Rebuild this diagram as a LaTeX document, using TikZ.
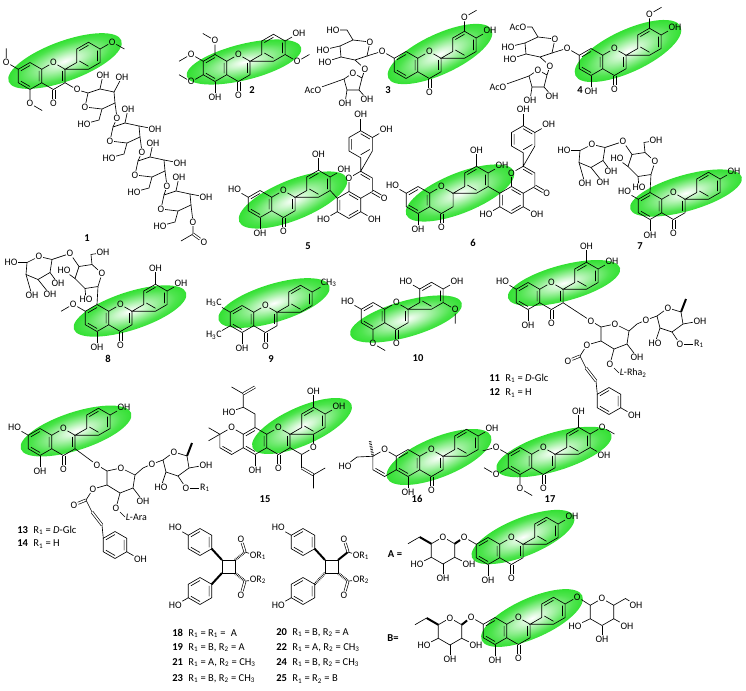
\documentclass[tikz,border=0pt]{standalone}
\usepackage{fontspec}
\setmainfont{Carlito}
\usetikzlibrary{calc}

\definecolor{glowgreen}{RGB}{8,218,8}
\pgfdeclareradialshading{greenglow}{\pgfpoint{0bp}{0bp}}{%
  color(0bp)=(white); color(6bp)=(white!80!glowgreen);
  color(20bp)=(glowgreen!72!white); color(33bp)=(glowgreen); color(50bp)=(glowgreen)}

% flavone skeleton, ring A centred on the pic origin
\newcommand{\flavcore}{%
  \coordinate (-a30) at (30:13.5);
  \coordinate (-a90) at (90:13.5);
  \coordinate (-a150) at (150:13.5);
  \coordinate (-a210) at (210:13.5);
  \coordinate (-a270) at (270:13.5);
  \coordinate (-a330) at (330:13.5);
  \coordinate (-c2) at (35.07,6.75);
  \coordinate (-c3) at (35.07,-6.75);
  \coordinate (-c4) at (23.38,-13.5);
  \node[atom] (-o1) at (23.38,13.5) {O};
  \node[atom] (-o4) at (23.38,-27) {O};
  \coordinate (-b210) at (46.76,13.5);
  \coordinate (-b150) at (46.76,27);
  \coordinate (-b90) at (58.45,33.75);
  \coordinate (-b30) at (70.14,27);
  \coordinate (-b330) at (70.14,13.5);
  \coordinate (-b270) at (58.45,6.75);
  \draw (-a30) -- (-a90) -- (-a150) -- (-a210) -- (-a270) -- (-a330) -- cycle;
  \draw (-a30) -- (-o1) -- (-c2) -- (-c3) -- (-c4) -- (-a330);
  \draw (-c2) -- (-b210) -- (-b150) -- (-b90) -- (-b30) -- (-b330) -- (-b270) -- cycle;
  \draw (90:10.5) -- (150:10.5) (210:10.5) -- (270:10.5) (330:10.5) -- (30:10.5);
  \begin{scope}[shift={(58.45,20.25)}]
    \draw (150:10.5) -- (90:10.5) (30:10.5) -- (330:10.5) (270:10.5) -- (210:10.5);
  \end{scope}
  \draw (21.9,-13.5) -- (21.9,-23) (24.86,-13.5) -- (24.86,-23);
}

% green glow behind a flavone core: x, y (screen), radii, angle
\newcommand{\glow}[5]{%
  \begin{scope}[transform canvas={shift={(#1,-#2)},rotate=#5}]
    \shade[shading=greenglow] (0,0) ellipse [x radius=#3, y radius=#4];
  \end{scope}}

\newcommand{\subst}[4][16]{%
  \path (#2) ++(#3:#1) node[atom] (#2-s) {#4};
  \draw (#2) -- (#2-s);}
\newcommand{\ome}[3]{%
  \path (#1) ++(#2:14) node[atom] (#1-s) {O};
  \draw (#1) -- (#1-s) -- ++(#3:14);}
\newcommand{\oxy}[3]{%
  \path (#1) ++(#2:14) node[atom] (#3) {O};
  \draw (#1) -- (#3);}
\newcommand{\hang}[4]{%
  \node[atom] (#1) at (#3) {#4};
  \draw (#2) -- (#1);}

\tikzset{
  atom/.style={inner sep=0.4pt, font=\fontsize{8.5}{9}\selectfont},
  cmpd/.style={inner sep=0.5pt, font=\fontsize{9}{10}\selectfont\bfseries},
  rlab/.style={anchor=west, inner sep=0pt, font=\fontsize{9}{10}\selectfont},
  wedgebond/.style={line width=1.7pt},
  hashbond/.style={line width=2.2pt, dash pattern=on 0.5pt off 0.9pt},
  dbl/.style={double, double distance=1.3pt},
  pics/flavone/.style={code={\flavcore \draw (32.47,5.25) -- (32.47,-5.25);}},
  pics/flavanone/.style={code={\flavcore}},
  pics/pyr/.style={code={
    \node[atom] (-o) at (-15,-8) {O};
    \coordinate (-c1) at (-12,6);
    \coordinate (-c2) at (0,10);
    \coordinate (-c3) at (14,7);
    \coordinate (-c4) at (15,-4);
    \coordinate (-c5) at (2,-10);
    \draw (-o) -- (-c1) -- (-c2) -- (-c3) -- (-c4) -- (-c5) -- (-o);
  }},
  pics/phen/.style={code={
    \foreach \t in {30,90,...,330} \coordinate (-v\t) at (\t:13.5);
    \draw (-v30) -- (-v90) -- (-v150) -- (-v210) -- (-v270) -- (-v330) -- cycle;
    \draw (90:10.5) -- (150:10.5) (210:10.5) -- (270:10.5) (330:10.5) -- (30:10.5);
  }}
}

% sugar of the chain in 1
\newcommand{\chainsug}[6]{%
  \pic (#1) at (#2,-#3) {pyr};
  \hang{#1h1}{#1-c2}{{#2+3},{-#3+24}}{OH}
  \hang{#1h2}{#1-#6}{{#2+#4},{-#3-(#5)}}{OH}
  \node[atom] (#1h3) at ({#2-16},{-#3-25}) {HO};
  \draw (#1-c5) -- ({#2-1},{-#3-21}) -- (#1h3);}

% glucose + acetylated furanose of 3 and 4
\newcommand{\glcapi}[4]{%
  \begin{scope}[shift={(#2,-#3)}]
    \pic[rotate=180] (#1g) at (0,0) {pyr};
    \node[atom] (#1t) at (-22,20) {#4};
    \draw (#1g-c5) -- (-8,20) -- (#1t);
    \hang{#1h1}{#1g-c4}{-32,0}{HO}
    \hang{#1h2}{#1g-c3}{-30,-12}{HO}
    \hang{#1l}{#1g-c2}{10,-19}{O}
    \coordinate (#1p1) at (7,-28);
    \node[atom] (#1po) at (-2,-23) {O};
    \coordinate (#1p3) at (-11,-29);
    \coordinate (#1p4) at (-8,-40);
    \coordinate (#1p5) at (4,-40);
    \draw (#1l) -- (#1p1) -- (#1po) -- (#1p3) -- (#1p4) -- (#1p5) -- (#1p1);
    \node[atom] (#1ac) at (-42,-40) {AcO};
    \draw (#1p3) -- (-25,-34) -- (#1ac);
    \hang{#1h3}{#1p5}{12,-49}{OH}
    \hang{#1h4}{#1p4}{-10,-53}{OH}
  \end{scope}}

% C-glycosyl disaccharide on C8 of 7 and 8
\newcommand{\cglyc}[2]{%
  \begin{scope}[shift={(#2)}]
    \node[atom] (#1go) at (5,31) {O};
    \coordinate (#1g1) at (1,18);
    \coordinate (#1g2) at (-12,16);
    \coordinate (#1g3) at (-22,26);
    \coordinate (#1g4) at (-18,38);
    \coordinate (#1g5) at (-5,40);
    \draw (#2) -- (#1g1) -- (#1g2) -- (#1g3) -- (#1g4) -- (#1g5) -- (#1go) -- (#1g1);
    \hang{#1h1}{#1g2}{-11,5}{HO}
    \hang{#1h2}{#1g3}{-33,34}{HO}
    \hang{#1l}{#1g4}{-27,51}{O}
    \node[atom] (#1h3) at (6,52) {OH};
    \draw (#1g5) -- (-6,50) -- (#1h3);
    \coordinate (#1r1) at (-45,45);
    \node[atom] (#1ro) at (-58,48) {O};
    \coordinate (#1r5) at (-70,42);
    \coordinate (#1r4) at (-71,30);
    \coordinate (#1r3) at (-59,25);
    \coordinate (#1r2) at (-47,32);
    \draw (#1l) -- (#1r1) -- (#1ro) -- (#1r5) -- (#1r4) -- (#1r3) -- (#1r2) -- (#1r1);
    \hang{#1h4}{#1r5}{-86,42}{HO}
    \hang{#1h5}{#1r2}{-39,21}{OH}
    \hang{#1h6}{#1r4}{-65,9}{OH}
    \hang{#1h7}{#1r3}{-47,10}{OH}
  \end{scope}}

% 3-O side chain of 11 (shifted for 13)
\newcommand{\sidech}[2]{%
  \node[atom] (#1o) at (591,-321) {O};
  \coordinate (#1a1) at (601,-327);
  \node[atom] (#1ao) at (615,-324) {O};
  \coordinate (#1a5) at (629,-331);
  \coordinate (#1a4) at (627,-344);
  \coordinate (#1a3) at (614,-349);
  \coordinate (#1a2) at (601,-341);
  \draw (#1o) -- (#1a1) -- (#1ao) -- (#1a5) -- (#1a4) -- (#1a3) -- (#1a2) -- (#1a1);
  \node[atom] (#1l) at (646,-320) {O};
  \draw (#1a5) -- (637,-324) -- (#1l);
  \coordinate (#1b1) at (657,-316);
  \node[atom] (#1bo) at (668,-308) {O};
  \coordinate (#1b5) at (681,-312);
  \coordinate (#1b4) at (683,-324);
  \coordinate (#1b3) at (672,-332);
  \coordinate (#1b2) at (660,-328);
  \draw (#1l) -- (#1b1) -- (#1bo) -- (#1b5) -- (#1b4) -- (#1b3) -- (#1b2) -- (#1b1);
  \draw[wedgebond] (#1b5) -- (686,-299);
  \hang{#1h1}{#1b4}{700,-321}{OH}
  \hang{#1h2}{#1b2}{655,-343}{HO}
  \hang{#1or}{#1b3}{680,-344}{O}
  \node[atom] (#1r) at (699,-344) {R\textsubscript{1}};
  \draw (#1or) -- (#1r);
  \hang{#1h3}{#1a4}{637,-357}{OH}
  \hang{#1ol}{#1a3}{610,-364}{O}
  \node[atom, anchor=west] (#1lab) at (619,-373) {#2};
  \draw (#1ol) -- (#1lab.west);
  \hang{#1eo}{#1a2}{587,-345}{O}
  \coordinate (#1ec) at (580,-356);
  \node[atom] (#1eq) at (568,-361) {O};
  \draw (#1eo) -- (#1ec);
  \draw[dbl] (#1ec) -- (#1eq);
  \coordinate (#1al) at (586,-368);
  \coordinate (#1be) at (596,-381);
  \draw (#1ec) -- (#1al);
  \draw[dbl] (#1al) -- (#1be);
  \pic (#1ph) at (609,-401) {phen};
  \draw (#1be) -- (#1ph-v150);
  \subst{#1ph-v330}{330}{OH}}

% glucose on O7 of A and B
\newcommand{\glcleft}[3]{%
  \begin{scope}[shift={(#2,-#3)}]
    \node[atom] (#1o) at (90:13.5) {O};
    \coordinate (#1c1) at (30:13.5);
    \coordinate (#1c2) at (330:13.5);
    \coordinate (#1c3) at (270:13.5);
    \coordinate (#1c4) at (210:13.5);
    \coordinate (#1c5) at (150:13.5);
    \draw (#1c5) -- (#1o) -- (#1c1) -- (#1c2) -- (#1c3) -- (#1c4) -- (#1c5);
    \draw[wedgebond] (#1c5) -- ++(150:13.5) coordinate (#1e1);
    \draw (#1e1) -- ++(210:13.5);
    \hang{#1h1}{#1c4}{-26,-14}{HO}
    \hang{#1h2}{#1c2}{26,-14}{OH}
    \hang{#1h3}{#1c3}{0,-28}{OH}
  \end{scope}}

% cyclobutane dimers
\newcommand{\cbut}[5]{%
  \pic (#1a) at (200,-542) {phen};
  \pic (#1b) at (200,-591) {phen};
  \subst[15]{#1a-v150}{150}{HO}
  \subst[15]{#1b-v210}{210}{HO}
  \coordinate (#1q1) at (222,-560);
  \coordinate (#1q2) at (235,-560);
  \coordinate (#1q3) at (235,-573);
  \coordinate (#1q4) at (222,-573);
  \draw (#1q1) -- (#1q2) -- (#1q3) -- (#1q4) -- cycle;
  \draw[#2] (#1a-v330) -- (#1q1);
  \draw[#3] (#1b-v30) -- (#1q4);
  \coordinate (#1e1) at (245,-552);
  \coordinate (#1e2) at (245,-581);
  \draw[#4] (#1q2) -- (#1e1);
  \draw[#5] (#1q3) -- (#1e2);
  \node[atom] (#1e1o) at (241,-539) {O};
  \node[atom] (#1e2o) at (241,-595) {O};
  \draw[dbl] (#1e1) -- (#1e1o);
  \draw[dbl] (#1e2) -- (#1e2o);
  \node[atom, anchor=west] (#1e1r) at (249,-556) {OR\textsubscript{1}};
  \node[atom, anchor=west] (#1e2r) at (249,-580) {OR\textsubscript{2}};
  \draw (#1e1) -- (#1e1r);
  \draw (#1e2) -- (#1e2r);}

\begin{document}
\begin{tikzpicture}[x=0.03cm, y=0.03cm, line width=0.55pt]
  \useasboundingbox (0,0) rectangle (746,-690);

  % glows
  \glow{65}{61}{60}{20}{20}
  \glow{244}{62}{59}{18}{14}
  \glow{440}{54}{57}{20}{25}
  \glow{628}{51}{58}{21}{25}
  \glow{293}{200}{58}{20}{22}
  \glow{460}{193}{58}{20}{22}
  \glow{686}{193}{58}{18}{16}
  \glow{130}{311}{59}{19}{18}
  \glow{274}{303}{58}{19}{17}
  \glow{406}{319}{58}{18}{16}
  \glow{564}{283}{58}{18}{15}
  \glow{76}{431}{58}{19}{18}
  \glow{302}{426}{54}{19}{24}
  \glow{439}{457}{56}{20}{22}
  \glow{554}{452}{60}{19}{17}
  \glow{523}{537}{55}{19}{22}
  \glow{532}{618}{55}{20}{24}

  % 1
  \pic (f1) at (30,-76) {flavone};
  \ome{f1-a150}{150}{90}
  \ome{f1-a270}{270}{330}
  \ome{f1-b30}{30}{330}
  \oxy{f1-c3}{330}{f1o3}
  \chainsug{s1}{100}{99}{22}{-22}{c3}
  \chainsug{s2}{125}{133}{30}{-4}{c3}
  \chainsug{s3}{150}{167}{30}{-4}{c3}
  \chainsug{s4}{176}{201}{30}{-4}{c3}
  \draw (f1o3) -- (s1-c1);
  \hang{s1l}{s1-c4}{117,-118}{O}
  \draw (s1l) -- (s2-c1);
  \hang{s2l}{s2-c4}{142,-152}{O}
  \draw (s2l) -- (s3-c1);
  \hang{s3l}{s3-c4}{167,-186}{O}
  \draw (s3l) -- (s4-c1);
  \hang{s4l}{s4-c4}{193,-222}{O}
  \coordinate (acC) at (193,-234);
  \node[atom] (acO) at (204,-242) {O};
  \draw (s4l) -- (acC) -- (181,-241);
  \draw[dbl] (acC) -- (acO);
  \node[cmpd] (n1) at (87,-238) {1};

  % 2
  \pic (f2) at (215,-68) {flavone};
  \ome{f2-a90}{90}{150}
  \ome{f2-a150}{150}{210}
  \ome{f2-a210}{210}{150}
  \subst{f2-a270}{270}{OH}
  \subst{f2-b30}{30}{OH}
  \ome{f2-b330}{330}{30}
  \node[cmpd] (n2) at (252,-90) {2};

  % 3
  \pic (f3) at (406,-65) {flavone};
  \oxy{f3-a150}{150}{f3o7}
  \ome{f3-b90}{90}{30}
  \subst{f3-b30}{30}{OH}
  \glcapi{u3}{355}{50}{HO}
  \draw (u3g-c1) -- (f3o7);
  \node[cmpd] (n3) at (388,-90) {3};

  % 4
  \pic (f4) at (591,-62) {flavone};
  \oxy{f4-a150}{150}{f4o7}
  \subst{f4-a270}{270}{OH}
  \ome{f4-b90}{90}{30}
  \subst{f4-b30}{30}{OH}
  \glcapi{u4}{540}{47}{AcO}
  \draw (u4g-c1) -- (f4o7);
  \node[cmpd] (n4) at (580,-90) {4};

  % 5
  \pic (f5) at (260,-204) {flavone};
  \subst{f5-a150}{150}{HO}
  \subst{f5-a270}{270}{OH}
  \subst{f5-b90}{90}{OH}
  \subst{f5-b30}{30}{OH}
  \pic[rotate=60] (g5) at (349,-205) {flavone};
  \draw (f5-b330) -- (g5-a90);
  \subst{g5-a150}{210}{HO}
  \subst{g5-a270}{330}{OH}
  \subst{g5-b30}{90}{OH}
  \subst{g5-b330}{30}{OH}
  \node[cmpd] (n5) at (308,-246) {5};

  % 6
  \pic (f6) at (418,-200) {flavanone};
  \subst{f6-a150}{150}{HO}
  \subst{f6-a270}{270}{OH}
  \subst{f6-b90}{90}{OH}
  \subst{f6-b30}{30}{OH}
  \pic[rotate=60] (g6) at (511.5,-200) {flavone};
  \draw (f6-b330) -- (g6-a90);
  \subst{g6-a150}{210}{HO}
  \subst{g6-a270}{330}{OH}
  \subst{g6-b30}{90}{OH}
  \subst{g6-b330}{30}{OH}
  \node[cmpd] (n6) at (473,-243) {6};

  % 7
  \pic (f7) at (650,-206) {flavone};
  \subst{f7-a150}{150}{HO}
  \subst{f7-a270}{270}{OH}
  \subst{f7-b30}{30}{OH}
  \cglyc{u7}{f7-a90}
  \node[cmpd] (n7) at (640,-246) {7};

  % 8
  \pic (f8) at (97,-318) {flavone};
  \ome{f8-a150}{150}{210}
  \subst{f8-a270}{270}{OH}
  \subst{f8-b90}{90}{OH}
  \subst{f8-b30}{30}{OH}
  \cglyc{u8}{f8-a90}
  \node[cmpd] (n8) at (108,-359) {8};

  % 9
  \pic (f9) at (242,-319) {flavone};
  \subst[19]{f9-a150}{150}{H\textsubscript{3}C}
  \subst[19]{f9-a210}{210}{H\textsubscript{3}C}
  \subst{f9-a270}{270}{OH}
  \subst[19]{f9-b30}{30}{CH\textsubscript{3}}
  \node[cmpd] (n9) at (271,-359) {9};

  % 10
  \pic (f10) at (373,-316) {flavone};
  \subst{f10-a150}{150}{HO}
  \ome{f10-a270}{270}{330}
  \subst{f10-b150}{150}{HO}
  \subst{f10-b30}{30}{OH}
  \ome{f10-b330}{330}{270}
  \node[cmpd] (n10) at (418,-358) {10};

  % 11 / 12
  \pic (f11) at (528,-296) {flavone};
  \subst{f11-a150}{150}{HO}
  \subst{f11-a270}{270}{OH}
  \subst{f11-b90}{90}{OH}
  \subst{f11-b30}{30}{OH}
  \sidech{u11}{\textit{L}-Rha\textsubscript{2}}
  \draw (f11-c3) -- (u11o);
  \node[rlab] (n11) at (489,-378) {\textbf{11}\enspace R\textsubscript{1} = \textit{D}-Glc};
  \node[rlab] (n12) at (489,-393) {\textbf{12}\enspace R\textsubscript{1} = H};

  % 13 / 14
  \pic (f13) at (40,-442) {flavone};
  \subst{f13-a150}{150}{HO}
  \subst{f13-a270}{270}{OH}
  \subst{f13-b30}{30}{OH}
  \begin{scope}[shift={(-494,-144)}]
    \sidech{u13}{\textit{L}-Ara}
  \end{scope}
  \draw (f13-c3) -- (u13o);
  \node[rlab] (n13) at (17,-530) {\textbf{13}\enspace R\textsubscript{1} = \textit{D}-Glc};
  \node[rlab] (n14) at (17,-544) {\textbf{14}\enspace R\textsubscript{1} = H};

  % 15
  \pic (f15) at (255,-441) {flavone};
  \subst{f15-a270}{270}{OH}
  \subst{f15-b90}{90}{OH}
  \subst{f15-b30}{30}{OH}
  \node[atom] (f15po) at (231.6,-427.5) {O};
  \coordinate (f15pm) at (219.9,-434.25);
  \coordinate (f15p1) at (219.9,-447.75);
  \coordinate (f15p2) at (231.6,-454.5);
  \draw (f15-a150) -- (f15po) -- (f15pm) -- (f15p1) -- (f15p2) -- (f15-a210);
  \draw (222.5,-446.3) -- (231.6,-451.5);
  \draw (f15pm) -- ++(150:13) (f15pm) -- ++(210:13);
  \coordinate (f15s1) at (255,-414);
  \coordinate (f15s2) at (243.3,-407.25);
  \coordinate (f15s3) at (243.3,-393.75);
  \draw (f15-a90) -- (f15s1) -- (f15s2) -- (f15s3) -- (231.6,-387);
  \hang{f15oh}{f15s2}{229,-412}{HO}
  \draw[dbl] (f15s3) -- (255,-387);
  \coordinate (f15q1) at (301.76,-454.5);
  \node[atom] (f15qo) at (313.45,-447.75) {O};
  \draw (f15-c3) -- (f15q1) -- (f15qo) -- (f15-b270);
  \coordinate (f15r1) at (301.76,-468);
  \coordinate (f15r2) at (313.45,-474.75);
  \draw (f15q1) -- (f15r1);
  \draw[dbl] (f15r1) -- (f15r2);
  \draw (f15r2) -- (313.45,-488.25) (f15r2) -- (325.15,-468);
  \node[cmpd] (n15) at (265,-499) {15};

  % 16
  \pic (f16) at (408,-463) {flavone};
  \subst{f16-a270}{270}{OH}
  \subst{f16-b30}{30}{OH}
  \node[atom] (f16po) at (384.6,-449.5) {O};
  \coordinate (f16pm) at (372.9,-456.25);
  \coordinate (f16p1) at (372.9,-469.75);
  \coordinate (f16p2) at (384.6,-476.5);
  \draw (f16-a150) -- (f16po) -- (f16pm) -- (f16p1) -- (f16p2) -- (f16-a210);
  \draw (375.5,-468.3) -- (384.6,-473.5);
  \draw[hashbond] (f16pm) -- (370,-441);
  \node[atom] (f16ho) at (345,-466) {HO};
  \draw (f16pm) -- (357,-457) -- (f16ho);
  \node[cmpd] (n16) at (417,-499) {16};

  % 17
  \pic (f17) at (520,-461) {flavone};
  \ome{f17-a150}{150}{195}
  \ome{f17-a210}{210}{150}
  \ome{f17-a270}{270}{330}
  \subst{f17-b90}{90}{OH}
  \ome{f17-b30}{30}{330}
  \subst{f17-b330}{330}{OH}
  \node[cmpd] (n17) at (550,-499) {17};

  % A
  \pic (fA) at (488,-551) {flavone};
  \oxy{fA-a150}{150}{fAo7}
  \subst{fA-a270}{270}{OH}
  \subst{fA-b30}{30}{OH}
  \glcleft{uA}{443}{550.5}
  \draw[wedgebond] (uAc1) -- (fAo7);
  \node[cmpd] (nA) at (395,-554) {A =};

  % B
  \pic (fB) at (495,-631) {flavone};
  \oxy{fB-a150}{150}{fBo7}
  \subst{fB-a270}{270}{OH}
  \oxy{fB-b30}{30}{fBo4}
  \glcleft{uB}{450}{631.5}
  \draw[wedgebond] (uBc1) -- (fBo7);
  \begin{scope}[shift={(602,-612)}]
    \node[atom] (uRo) at (90:13.5) {O};
    \coordinate (uR1) at (150:13.5);
    \coordinate (uR5) at (30:13.5);
    \coordinate (uR4) at (330:13.5);
    \coordinate (uR3) at (270:13.5);
    \coordinate (uR2) at (210:13.5);
    \draw (uR1) -- (uRo) -- (uR5) -- (uR4) -- (uR3) -- (uR2) -- (uR1);
    \node[atom] (uRh1) at (34,7) {OH};
    \draw (uR5) -- (23.4,13.5) -- (uRh1);
    \hang{uRh2}{uR2}{-27,-14}{HO}
    \hang{uRh3}{uR4}{25,-14}{OH}
    \hang{uRh4}{uR3}{0,-27}{OH}
  \end{scope}
  \draw (fBo4) -- (uR1);
  \node[cmpd] (nB) at (393,-638) {B=};

  % 18-25
  \cbut{cL}{wedgebond}{wedgebond}{hashbond}{hashbond}
  \begin{scope}[shift={(103,0)}]
    \cbut{cR}{wedgebond}{hashbond}{wedgebond}{hashbond}
  \end{scope}
  \node[rlab] (n18) at (172,-633) {\textbf{18}\enspace R\textsubscript{1} = R\textsubscript{1} =\enspace A};
  \node[rlab] (n19) at (172,-648) {\textbf{19}\enspace R\textsubscript{1} = B, R\textsubscript{2} = A};
  \node[rlab] (n21) at (172,-663) {\textbf{21}\enspace R\textsubscript{1} = A, R\textsubscript{2} = CH\textsubscript{3}};
  \node[rlab] (n23) at (172,-679) {\textbf{23}\enspace R\textsubscript{1} = B, R\textsubscript{2} = CH\textsubscript{3}};
  \node[rlab] (n20) at (276,-633) {\textbf{20}\enspace R\textsubscript{1} = B, R\textsubscript{2} = A};
  \node[rlab] (n22) at (276,-648) {\textbf{22}\enspace R\textsubscript{1} = A, R\textsubscript{2} = CH\textsubscript{3}};
  \node[rlab] (n24) at (276,-663) {\textbf{24}\enspace R\textsubscript{1} = B, R\textsubscript{2} = CH\textsubscript{3}};
  \node[rlab] (n25) at (276,-679) {\textbf{25}\enspace R\textsubscript{1} = R\textsubscript{2} = B};
\end{tikzpicture}
\end{document}
